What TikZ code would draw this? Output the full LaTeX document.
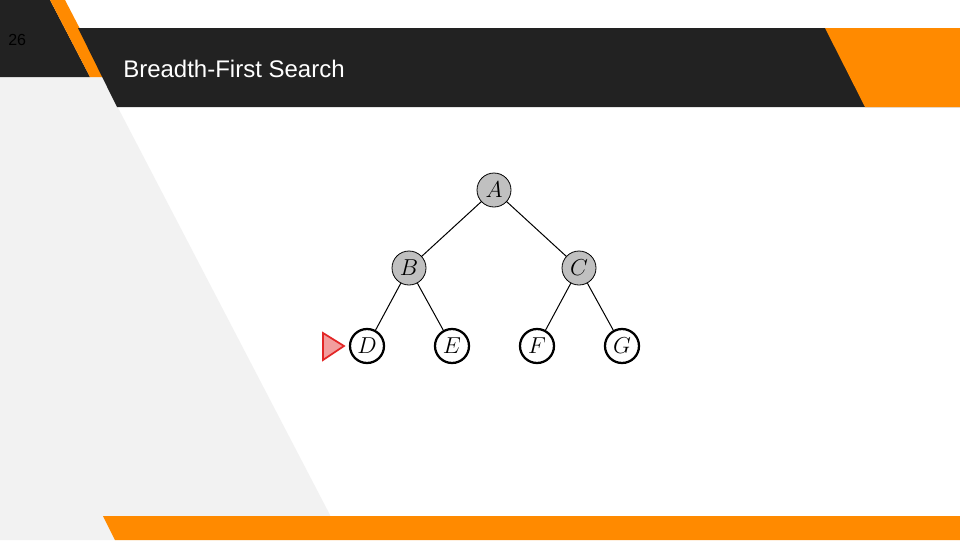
\documentclass[tikz,border=0pt]{standalone}
\usepackage{fontspec}
\setmainfont{Liberation Sans}
\usetikzlibrary{positioning}
\definecolor{dark}{HTML}{222222}
\definecolor{brand}{HTML}{FF8A00}
\definecolor{panel}{HTML}{F2F2F2}
\definecolor{seen}{HTML}{C0C0C0}
\definecolor{mark}{HTML}{E32626}
\tikzset{
  seennode/.style={circle, draw=black, line width=0.6pt, fill=seen,
                   minimum size=25.5pt, inner sep=0pt, font=\fontsize{17pt}{18pt}\selectfont},
  freshnode/.style={circle, draw=black, line width=1.7pt, fill=white,
                    minimum size=25.5pt, inner sep=0pt, font=\fontsize{17pt}{18pt}\selectfont},
  edge/.style={draw=black, line width=0.75pt},
  pointer/.style={draw=mark, line width=1.3pt, fill=mark!45, line join=miter},
}

\begin{document}
\begin{tikzpicture}[x=0.75pt, y=-0.75pt]
  \useasboundingbox (0,0) rectangle (960,540);
  \fill[white] (0,0) rectangle (960,540);

  % slide background
  \fill[panel] (0,77) -- (102,77) -- (330,515) -- (330,540) -- (0,540) -- cycle;
  \fill[dark] (0,0) -- (50,0) -- (90,77) -- (0,77) -- cycle;
  \fill[brand] (50,0) -- (65,0) -- (105,77) -- (90,77) -- cycle;
  \fill[dark] (78,28) -- (960,28) -- (960,107) -- (117,107) -- cycle;
  \fill[brand] (825,28) -- (960,28) -- (960,107) -- (865,107) -- cycle;
  \fill[brand] (103,516) -- (960,516) -- (960,540) -- (115,540) -- cycle;

  \node[anchor=base west, font=\fontsize{12pt}{14pt}\selectfont, text=black, inner sep=0pt]
    (page) at (8,45) {26};
  \node[anchor=base west, font=\fontsize{18pt}{21pt}\selectfont, text=white, inner sep=0pt]
    (title) at (123,77) {Breadth-First Search};

  % tree
  \node[seennode] (A) at (494,190) {$A$};
  \node[seennode] (B) at (409,268) {$B$};
  \node[seennode] (C) at (579,268) {$C$};
  \node[freshnode] (D) at (367,346) {$D$};
  \node[freshnode] (E) at (452,346) {$E$};
  \node[freshnode] (F) at (537,346) {$F$};
  \node[freshnode] (G) at (622,346) {$G$};

  \foreach \a/\b in {A/B, A/C, B/D, B/E, C/F, C/G}
    \draw[edge] (\a) -- (\b);

  % queue front
  \coordinate (tip) at (344,346);
  \draw[pointer] (tip) -- ++(-21,-13) -- ++(0,27) -- cycle;
\end{tikzpicture}
\end{document}
